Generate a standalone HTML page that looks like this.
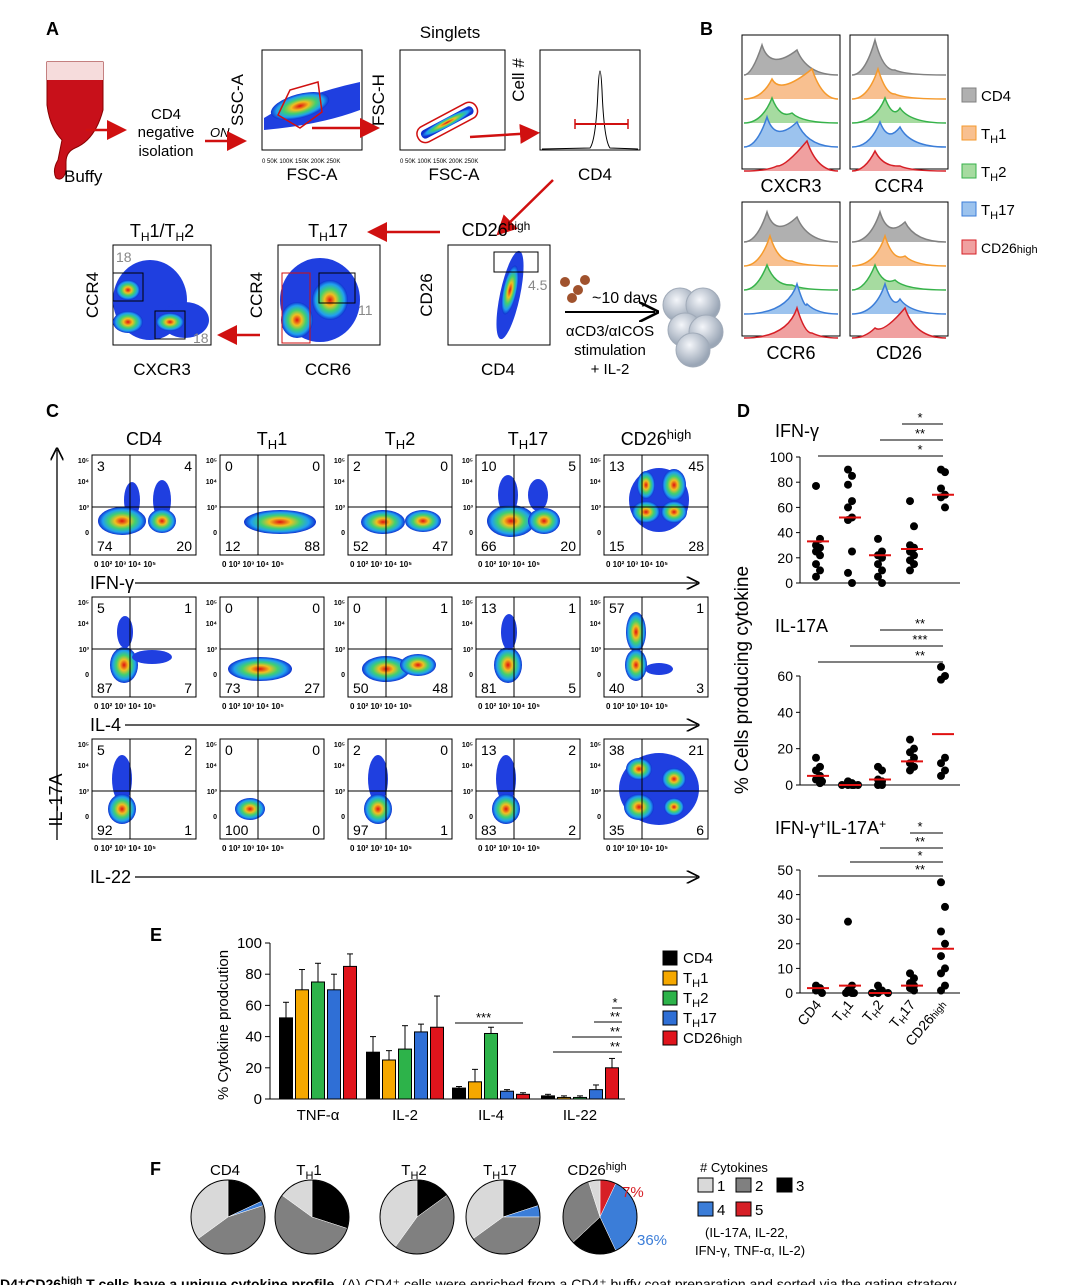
<!DOCTYPE html>
<html><head><meta charset="utf-8">
<style>
html,body{margin:0;padding:0;background:#fff;}
svg{display:block;font-family:"Liberation Sans",sans-serif;}
</style></head>
<body>
<svg id="fig" width="1080" height="1285" viewBox="0 0 1080 1285" xmlns="http://www.w3.org/2000/svg">
<defs>
<radialGradient id="heat" cx="50%" cy="50%" r="50%">
<stop offset="0" stop-color="#e01010"/><stop offset="0.3" stop-color="#f0c020"/><stop offset="0.55" stop-color="#40d070"/><stop offset="0.8" stop-color="#20a0f0"/><stop offset="1" stop-color="#1030d0"/>
</radialGradient>
<radialGradient id="cellg" cx="40%" cy="35%" r="60%"><stop offset="0" stop-color="#f4f6fa"/><stop offset="1" stop-color="#9aa6b6"/></radialGradient>
<marker id="arR" markerWidth="8" markerHeight="8" refX="6" refY="4" orient="auto"><path d="M0,0 L8,4 L0,8 z" fill="#d01010"/></marker>
<marker id="arK" markerWidth="10" markerHeight="10" refX="8" refY="5" orient="auto"><path d="M0,0 L10,5 L0,10" fill="none" stroke="#000" stroke-width="1.3"/></marker>
</defs>
<g id="root"></g>
</svg>
<script>
// ---------- Panel E data ----------
const eCategories = ["TNF-α","IL-2","IL-4","IL-22"];
const eSeries = ["CD4","TH1","TH2","TH17","CD26high"];
const eCD4 = [52,30,7,2];
const eTH1 = [70,25,11,1];
const eTH2 = [75,32,42,1];
const eTH17 = [70,43,5,6];
const eCD26 = [85,46,3,20];
const eErrCD4 = [10,10,1,1];
const eErrTH1 = [13,6,8,1];
const eErrTH2 = [12,15,4,1];
const eErrTH17 = [10,5,1,3];
const eErrCD26 = [8,20,1,6];
const eTicks = [0,20,40,60,80,100];
// ---------- Panel D data ----------
const dGroups = ["CD4","TH1","TH2","TH17","CD26high"];
const ifnCD4=[77,35,30,28,25,22,15,10,5], ifnTH1=[90,85,78,65,60,52,50,25,8,0], ifnTH2=[35,25,22,20,15,10,5,0], ifnTH17=[65,45,30,28,25,22,18,15,10], ifnCD26=[90,88,75,70,68,60];
const ifnMed=[33,52,22,27,70];
const il17CD4=[15,10,8,5,3,2,2,1], il17TH1=[2,1,0,0,0,0,0], il17TH2=[10,8,3,2,0,0], il17TH17=[25,20,18,15,12,10,8], il17CD26=[65,60,58,15,12,8,5];
const il17Med=[5,0,3,13,28];
const dblCD4=[3,2,1,1,0], dblTH1=[29,3,1,0,0,0], dblTH2=[3,1,0,0,0], dblTH17=[8,6,4,3,2,1], dblCD26=[45,35,25,20,15,10,8,3,1];
const dblMed=[2,3,0,3,18];
const ifnTicks=[0,20,40,60,80,100], il17Ticks=[0,20,40,60], dblTicks=[0,10,20,30,40,50];
// ---------- Panel F data ----------
const pieCD4=[0.35,0.45,0.18,0.02,0];
const pieTH1=[0.15,0.55,0.30,0,0];
const pieTH2=[0.40,0.45,0.15,0,0];
const pieTH17=[0.35,0.40,0.20,0.05,0];
const pieCD26=[0.05,0.32,0.20,0.36,0.07];
const pieColors=["#d9d9d9","#808080","#000000","#3b7dd8","#d61f26"];

const NS="http://www.w3.org/2000/svg";
const root=document.getElementById('root');
function mk(tag,attrs,name,parent){
  const el=document.createElementNS(NS,tag);
  for(const k in attrs) el.setAttribute(k,attrs[k]);
  
  
  (parent||root).appendChild(el);
  return el;
}
function tx(x,y,s,size,name,extra){
  const a=Object.assign({x:x,y:y,'font-size':size},extra||{});
  const t=mk('text',a,name);
  t.innerHTML=s;
  return t;
}
function line(x1,y1,x2,y2,name,st,w){return mk('line',{x1,y1,x2,y2,stroke:st||'#000','stroke-width':w||1},name);}
function rect(x,y,w,h,name,fill,st){return mk('rect',{x,y,width:w,height:h,fill:fill||'none',stroke:st||'none'},name);}
function blob(cx,cy,rx,ry,name,rot){return mk('ellipse',{cx,cy,rx,ry,fill:'url(#heat)',transform:'rotate('+(rot||0)+' '+cx+' '+cy+')'},name);}
function bluearea(cx,cy,rx,ry,name){return mk('ellipse',{cx,cy,rx,ry,fill:'#1f3fe0'},name);}

// ---------- Panel labels ----------
tx(46,35,'A',18,'panel-label-a',{'font-weight':'bold'});
tx(700,35,'B',18,'panel-label-b',{'font-weight':'bold'});
tx(46,417,'C',18,'panel-label-c',{'font-weight':'bold'});
tx(737,417,'D',18,'panel-label-d',{'font-weight':'bold'});
tx(150,941,'E',18,'panel-label-e',{'font-weight':'bold'});
tx(150,1175,'F',18,'panel-label-f',{'font-weight':'bold'});

// ---------- Panel A ----------
mk('path',{d:'M47,62 L103,62 L103,110 Q95,140 75,148 Q66,152 66,162 L66,172 Q62,182 56,178 Q52,170 58,160 L62,140 Q50,128 47,105 Z',fill:'#c8101a',stroke:'#800'},'buffy-bag');
mk('path',{d:'M47,62 L103,62 L103,80 L47,80 Z',fill:'#f6dcdc'},'buffy-bag-top');
tx(64,182,'Buffy',17,'buffy-label');
line(86,130,122,130,'arrow-isolation','#d01010',2.5).setAttribute('marker-end','url(#arR)');
tx(166,119,'CD4',15,'step-cd4',{'text-anchor':'middle'});
tx(166,137,'negative',15,'step-negative',{'text-anchor':'middle'});
tx(166,156,'isolation',15,'step-isolation',{'text-anchor':'middle'});
tx(210,137,'ON',13,'step-on',{'font-style':'italic'});
line(205,141,242,141,'arrow-on','#d01010',2.5).setAttribute('marker-end','url(#arR)');
rect(262,50,100,100,'ssc-plot','#fff','#000');
mk('path',{d:'M264,118 Q300,95 360,82 L360,110 Q320,125 264,130Z',fill:'#1f3fe0'},'ssc-density');
blob(300,106,30,12,'ssc-core',-15);
mk('path',{d:'M278,115 L290,90 L318,82 L322,112 L300,128 Z',fill:'none',stroke:'#d01010','stroke-width':1.5},'ssc-gate');
tx(243,100,'SSC-A',17,'ssc-axis-title',{transform:'rotate(-90 243 100)','text-anchor':'middle'});
tx(312,180,'FSC-A',17,'ssc-x-title',{'text-anchor':'middle'});
tx(262,163,'0  50K 100K 150K 200K 250K',6,'ssc-x-ticks');
line(312,128,375,128,'arrow-gate1','#d01010',2.5).setAttribute('marker-end','url(#arR)');
rect(400,50,105,100,'fsch-plot','#fff','#000');
mk('rect',{x:418,y:118,width:58,height:9,rx:4,fill:'url(#heat)',transform:'rotate(-28 447 122)'},'fsch-density');
mk('rect',{x:414,y:114,width:66,height:17,rx:8,fill:'none',stroke:'#d01010','stroke-width':1.5,transform:'rotate(-28 447 122)'},'fsch-gate');
tx(450,38,'Singlets',17,'singlets-title',{'text-anchor':'middle'});
tx(384,100,'FSC-H',17,'fsch-axis-title',{transform:'rotate(-90 384 100)','text-anchor':'middle'});
tx(454,180,'FSC-A',17,'fsch-x-title',{'text-anchor':'middle'});
tx(400,163,'0  50K 100K 150K 200K 250K',6,'fsch-x-ticks');
line(470,137,535,133,'arrow-gate2','#d01010',2.5).setAttribute('marker-end','url(#arR)');
rect(540,50,100,100,'cd4-hist-plot','#fff','#000');
mk('path',{d:'M542,149 L590,148 Q596,140 598,90 Q600,52 602,90 Q604,140 610,148 L638,149',fill:'none',stroke:'#000'},'cd4-hist-curve');
line(575,124,628,124,'cd4-hist-gate','#d01010',2);
line(575,119,575,129,'cd4-gate-l','#d01010',1.5);line(628,119,628,129,'cd4-gate-r','#d01010',1.5);
tx(524,80,'Cell #',17,'cd4-hist-ytitle',{transform:'rotate(-90 524 80)','text-anchor':'middle'});
tx(595,180,'CD4',17,'cd4-hist-xtitle',{'text-anchor':'middle'});
line(553,180,500,232,'arrow-to-cd26','#d01010',2.5).setAttribute('marker-end','url(#arR)');
line(440,232,372,232,'arrow-to-th17','#d01010',2.5).setAttribute('marker-end','url(#arR)');
function flowBox(x,y,w,h,name){rect(x,y,w,h,name,'#fff','#000');}
flowBox(113,245,98,100,'th1th2-plot');
bluearea(150,300,37,40,'th1th2-area');bluearea(185,320,24,18,'th1th2-area2');
blob(128,322,15,11,'th1th2-core1');blob(128,290,12,10,'th1th2-core2');blob(170,322,14,9,'th1th2-core3');
rect(113,273,30,28,'th1th2-gate1','none','#000');rect(155,311,30,28,'th1th2-gate2','none','#000');
tx(116,262,'18',14,'th1th2-val1',{fill:'#888'});tx(193,343,'18',14,'th1th2-val2',{fill:'#888'});
tx(162,237,'T<tspan font-size="12" dy="4">H</tspan><tspan dy="-4">1/T</tspan><tspan font-size="12" dy="4">H</tspan><tspan dy="-4">2</tspan>',18,'th1th2-title',{'text-anchor':'middle'});
tx(98,295,'CCR4',17,'th1th2-ytitle',{transform:'rotate(-90 98 295)','text-anchor':'middle'});
tx(162,375,'CXCR3',17,'th1th2-xtitle',{'text-anchor':'middle'});
flowBox(278,245,102,100,'th17-gate-plot');
bluearea(320,300,40,42,'th17-area');
blob(297,320,16,18,'th17-core1');blob(330,300,18,20,'th17-core2');
rect(282,273,28,70,'th17-gate-red','none','#d01010');rect(319,273,36,30,'th17-gate-box','none','#000');
tx(358,315,'11',14,'th17-val',{fill:'#888'});
tx(328,237,'T<tspan font-size="12" dy="4">H</tspan><tspan dy="-4">17</tspan>',18,'th17-title',{'text-anchor':'middle'});
tx(262,295,'CCR4',17,'th17-ytitle',{transform:'rotate(-90 262 295)','text-anchor':'middle'});
tx(328,375,'CCR6',17,'th17-xtitle',{'text-anchor':'middle'});
line(260,335,222,335,'arrow-to-th1th2','#d01010',2.5).setAttribute('marker-end','url(#arR)');
flowBox(448,245,102,100,'cd26-plot');
mk('ellipse',{cx:510,cy:295,rx:10,ry:45,fill:'#1f3fe0',transform:'rotate(12 510 295)'},'cd26-area');
blob(510,290,7,25,'cd26-core',12);
rect(494,252,44,20,'cd26-gate','none','#000');
tx(528,290,'4.5',14,'cd26-val',{fill:'#888'});
tx(496,236,'CD26<tspan font-size="12" dy="-6">high</tspan>',18,'cd26-title',{'text-anchor':'middle'});
tx(432,295,'CD26',17,'cd26-ytitle',{transform:'rotate(-90 432 295)','text-anchor':'middle'});
tx(498,375,'CD4',17,'cd26-xtitle',{'text-anchor':'middle'});
tx(592,303,'~10 days',16,'culture-days');
line(565,312,655,312,'arrow-culture','#000',2).setAttribute('marker-end','url(#arK)');
tx(610,336,'αCD3/αICOS',15,'stim-1',{'text-anchor':'middle'});
tx(610,355,'stimulation',15,'stim-2',{'text-anchor':'middle'});
tx(610,374,'+ IL-2',15,'stim-3',{'text-anchor':'middle'});
[[565,282],[578,290],[572,298],[585,280]].forEach((p,i)=>{mk('circle',{cx:p[0],cy:p[1],r:5,fill:'#a0522d'},'bead-'+i);});
[[680,305],[703,305],[685,330],[706,332],[693,350]].forEach((p,i)=>{mk('circle',{cx:p[0],cy:p[1],r:17,fill:'url(#cellg)',stroke:'#a0aab8'},'cell-'+i);});

// ---------- Panel B ----------
const histCols=["#808080","#f59a2c","#36b24a","#3b7dd8","#d61f26"];
const histFill=["#b0b0b0","#f8c090","#a6dba0","#9cc3ee","#f0a0a0"];
function histBox(x,y,name,peaks,xl){
  rect(x,y,98,134,name,'#fff','#000');
  for(let i=0;i<5;i++){
    const by=y+40+i*24;
    const p=peaks[i];
    let d='M'+(x+2)+','+by;
    d+=' Q'+(x+p[0]-10)+','+by+' '+(x+p[0])+','+(by-p[1]);
    d+=' Q'+(x+p[0]+8)+','+(by-4)+' '+(x+p[2])+','+(by-p[3]);
    d+=' Q'+(x+p[2]+10)+','+by+' '+(x+96)+','+by;
    mk('path',{d:d+' Z',fill:histFill[i],stroke:'none'},name+'-fill-'+i);
    mk('path',{d:d,fill:'none',stroke:histCols[i],'stroke-width':1.5},name+'-line-'+i);
  }
  tx(x+49,y+157,xl,18,name+'-xtitle',{'text-anchor':'middle'});
}
histBox(742,35,'hist-cxcr3',[[20,30,55,25],[30,20,70,30],[30,25,50,10],[25,30,55,25],[35,5,65,30]],'CXCR3');
histBox(850,35,'hist-ccr4',[[25,35,45,5],[28,30,45,5],[35,25,50,15],[30,25,50,20],[25,20,50,5]],'CCR4');
histBox(742,202,'hist-ccr6',[[25,30,55,25],[28,30,50,5],[25,25,50,5],[55,30,65,10],[55,30,70,5]],'CCR6');
histBox(850,202,'hist-cd26',[[30,30,55,20],[35,30,55,10],[25,25,45,10],[35,30,50,15],[25,10,55,30]],'CD26');
const legB=[["CD4",""],["T","1"],["T","2"],["T","17"],["CD26","high"]];
legB.forEach((l,i)=>{
  const y=100+i*38;
  rect(962,y-12,14,14,'legend-b-swatch-'+i,histFill[i],histCols[i]);
  if(i==0) tx(981,y+1,'CD4',15,'legend-b-cd4');
  else if(i<4) tx(981,y+1,'T<tspan font-size="11" dy="4">H</tspan><tspan dy="-4">'+l[1]+'</tspan>',15,'legend-b-entry-'+i);
  else tx(981,y+1,'CD26<tspan font-size="11">high</tspan>',14,'legend-b-cd26');
});

// ---------- Panel C ----------
const cColX=[92,220,348,476,604];
const cRowY=[455,597,739];
const cTitles=['CD4','T<tspan font-size="13" dy="4">H</tspan><tspan dy="-4">1</tspan>','T<tspan font-size="13" dy="4">H</tspan><tspan dy="-4">2</tspan>','T<tspan font-size="13" dy="4">H</tspan><tspan dy="-4">17</tspan>','CD26<tspan font-size="13" dy="-6">high</tspan>'];
const cQuad=[[[3,4,74,20],[0,0,12,88],[2,0,52,47],[10,5,66,20],[13,45,15,28]],
[[5,1,87,7],[0,0,73,27],[0,1,50,48],[13,1,81,5],[57,1,40,3]],
[[5,2,92,1],[0,0,100,0],[2,0,97,1],[13,2,83,2],[38,21,35,6]]];
cColX.forEach((x,c)=>{tx(x+52,445,cTitles[c],18,'c-col-title-'+c,{'text-anchor':'middle'});});
cRowY.forEach((y,r)=>{
  cColX.forEach((x,c)=>{
    const n='c-plot-r'+r+'-c'+c;
    rect(x,y,104,100,n,'#fff','#000');
    const q=cQuad[r][c];
    if(r==0){
      if(c==4){bluearea(x+55,y+45,30,32,n+'-area');blob(x+42,y+57,14,11,n+'-c1');blob(x+70,y+57,13,11,n+'-c2');blob(x+70,y+30,12,16,n+'-c3');blob(x+42,y+30,9,14,n+'-c4');}
      else if(c==1){blob(x+60,y+67,36,12,n+'-c1');}
      else if(c==2){blob(x+35,y+67,22,12,n+'-c1');blob(x+75,y+66,18,11,n+'-c2');}
      else if(c==0){bluearea(x+40,y+45,8,18,n+'-a1');bluearea(x+70,y+45,9,20,n+'-a2');blob(x+30,y+66,24,14,n+'-c1');blob(x+70,y+66,14,12,n+'-c2');}
      else {bluearea(x+32,y+40,10,20,n+'-a1');bluearea(x+62,y+40,10,16,n+'-a2');blob(x+35,y+66,24,16,n+'-c1');blob(x+68,y+66,16,13,n+'-c2');}
    } else if(r==1){
      if(c==1){blob(x+40,y+72,32,12,n+'-c1');}
      else if(c==2){blob(x+38,y+72,24,13,n+'-c1');blob(x+70,y+68,18,11,n+'-c2');}
      else if(c==4){blob(x+32,y+35,10,20,n+'-c1');blob(x+32,y+68,11,16,n+'-c2');bluearea(x+55,y+72,14,6,n+'-a2');}
      else if(c==0){blob(x+32,y+68,14,18,n+'-c1');bluearea(x+33,y+35,8,16,n+'-a1');bluearea(x+60,y+60,20,7,n+'-a2');}
      else {blob(x+32,y+68,14,18,n+'-c1');bluearea(x+33,y+35,8,18,n+'-a1');}
    } else {
      if(c==1){blob(x+30,y+70,15,11,n+'-c1');}
      else if(c==4){bluearea(x+55,y+50,40,36,n+'-area');blob(x+35,y+68,15,13,n+'-c1');blob(x+35,y+30,13,11,n+'-c2');blob(x+70,y+40,12,11,n+'-c3');blob(x+70,y+68,10,9,n+'-c4');}
      else {bluearea(x+30,y+40,10,24,n+'-a1');blob(x+30,y+70,14,15,n+'-c1');}
    }
    line(x+38,y,x+38,y+100,n+'-vline');
    line(x,y+52,x+104,y+52,n+'-hline');
    tx(x+5,y+16,q[0],14,n+'-q-ul');
    tx(x+100,y+16,q[1],14,n+'-q-ur',{'text-anchor':'end'});
    tx(x+5,y+96,q[2],14,n+'-q-ll');
    tx(x+100,y+96,q[3],14,n+'-q-lr',{'text-anchor':'end'});
    tx(x+2,y+112,'0 10² 10³ 10⁴ 10⁵',8,n+'-xticks',{'font-weight':'bold'});
    tx(x-3,y+8,'10⁵',7,n+'-yt5',{'text-anchor':'end','font-weight':'bold'});
    tx(x-3,y+29,'10⁴',7,n+'-yt4',{'text-anchor':'end','font-weight':'bold'});
    tx(x-3,y+55,'10³',7,n+'-yt3',{'text-anchor':'end','font-weight':'bold'});
    tx(x-3,y+80,'0',7,n+'-yt0',{'text-anchor':'end','font-weight':'bold'});
  });
});
line(57,840,57,450,'c-y-arrow','#000',1.3).setAttribute('marker-end','url(#arK)');
tx(62,800,'IL-17A',18,'c-y-title',{transform:'rotate(-90 62 800)','text-anchor':'middle'});
[['IFN-γ',583],['IL-4',725],['IL-22',877]].forEach((a,i)=>{
  tx(90,a[1]+6,a[0],18,'c-x-title-'+i);
  line(90+(i==1?35:45),a[1],697,a[1],'c-x-arrow-'+i,'#000',1.3).setAttribute('marker-end','url(#arK)');
});

// ---------- Panel D ----------
const dX=[818,850,880,912,943];
function dotPlot(title,ty,y0,yTop,maxV,ticks,groups,med,sigs,name){
  const ys=v=>y0-(v/maxV)*(y0-yTop);
  tx(775,ty,title,18,name+'-title');
  line(800,ys(maxV),800,y0,name+'-yaxis');
  line(800,y0,960,y0,name+'-xaxis');
  ticks.forEach(t=>{line(796,ys(t),800,ys(t),name+'-tick-'+t);tx(793,ys(t)+5,t,14,name+'-ticklabel-'+t,{'text-anchor':'end'});});
  groups.forEach((g,gi)=>{
    const cnt={};
    g.forEach((v,k)=>{const key=Math.round(ys(v)/4);cnt[key]=(cnt[key]||0)+1;const off=((cnt[key]-1)%3-1)*6*(cnt[key]>1?1:0)+(k%2?2:-2);
      mk('circle',{cx:dX[gi]+off,cy:ys(v),r:4,fill:'#000'},name+'-dot-'+gi+'-'+k);});
    line(dX[gi]-11,ys(med[gi]),dX[gi]+11,ys(med[gi]),name+'-median-'+gi,'#e01010',2);
  });
  sigs.forEach((s,i)=>{line(s[0],s[1],943,s[1],name+'-sig-line-'+i);tx(920,s[1]-2,s[2],13,name+'-sig-'+i,{'text-anchor':'middle'});});
}
dotPlot('IFN-γ',437,583,457,100,ifnTicks,[ifnCD4,ifnTH1,ifnTH2,ifnTH17,ifnCD26],ifnMed,[[902,424,'*'],[880,440,'**'],[818,456,'*']],'d-ifn');
dotPlot('IL-17A',632,785,676,60,il17Ticks,[il17CD4,il17TH1,il17TH2,il17TH17,il17CD26],il17Med,[[880,630,'**'],[850,646,'***'],[818,662,'**']],'d-il17');
dotPlot('IFN-γ<tspan font-size="12" dy="-6">+</tspan><tspan dy="6">IL-17A</tspan><tspan font-size="12" dy="-6">+</tspan>',834,993,870,50,dblTicks,[dblCD4,dblTH1,dblTH2,dblTH17,dblCD26],dblMed,[[910,833,'*'],[880,848,'**'],[850,862,'*'],[818,876,'**']],'d-dbl');
tx(748,680,'% Cells producing cytokine',19,'d-y-title',{transform:'rotate(-90 748 680)','text-anchor':'middle'});
const dLab=['CD4','T<tspan font-size="10" dy="3">H</tspan><tspan dy="-3">1</tspan>','T<tspan font-size="10" dy="3">H</tspan><tspan dy="-3">2</tspan>','T<tspan font-size="10" dy="3">H</tspan><tspan dy="-3">17</tspan>','CD26<tspan font-size="10">high</tspan>'];
dGroups.forEach((g,i)=>{tx(dX[i]+4,1005,dLab[i],14,'d-xlabel-'+i,{'text-anchor':'end',transform:'rotate(-50 '+(dX[i]+4)+' 1005)'});});

// ---------- Panel E ----------
const eColors=["#000000","#f5a800","#2db34a","#2f6fd6","#e0141c"];
const eVals=[eCD4,eTH1,eTH2,eTH17,eCD26], eErrs=[eErrCD4,eErrTH1,eErrTH2,eErrTH17,eErrCD26];
const eY0=1099,eY1=943,eGX=[318,405,491,580],eBW=13;
const ey=v=>eY0-v/100*(eY0-eY1);
line(270,eY1,270,eY0,'e-yaxis');line(270,eY0,625,eY0,'e-xaxis');
eTicks.forEach(t=>{line(265,ey(t),270,ey(t),'e-tick-'+t);tx(262,ey(t)+5,t,15,'e-ticklabel-'+t,{'text-anchor':'end'});});
tx(228,1025,'% Cytokine prodcution',15,'e-y-title',{transform:'rotate(-90 228 1025)','text-anchor':'middle'});
eCategories.forEach((c,ci)=>{
  tx(eGX[ci],1120,c,15,'e-xlabel-'+ci,{'text-anchor':'middle'});
  eSeries.forEach((s,si)=>{
    const x=eGX[ci]+(si-2)*(eBW+3)-eBW/2, v=eVals[si][ci], e=eErrs[si][ci];
    line(x+eBW/2,ey(v),x+eBW/2,ey(v+e),'e-err-'+s+'-'+ci);
    line(x+eBW/2-3,ey(v+e),x+eBW/2+3,ey(v+e),'e-errcap-'+s+'-'+ci);
    rect(x,ey(v),eBW,eY0-ey(v),'e-bar-'+s+'-'+ci,eColors[si],'#000');
  });
});
line(455,1023,523,1023,'e-sig-il4');tx(476,1022,'***',13,'e-sig-il4-label');
[[612,1008,'*'],[594,1022,'**'],[572,1037,'**'],[553,1052,'**']].forEach((s,i)=>{line(s[0],s[1],622,s[1],'e-sig-line-'+i);tx(615,s[1]-1,s[2],13,'e-sig-'+i,{'text-anchor':'middle'});});
const eLeg=['CD4','T<tspan font-size="11" dy="4">H</tspan><tspan dy="-4">1</tspan>','T<tspan font-size="11" dy="4">H</tspan><tspan dy="-4">2</tspan>','T<tspan font-size="11" dy="4">H</tspan><tspan dy="-4">17</tspan>','CD26<tspan font-size="11">high</tspan>'];
eLeg.forEach((l,i)=>{const y=962+i*20;rect(663,y-11,14,14,'e-legend-swatch-'+i,eColors[i],'#000');tx(683,y+1,l,15,'e-legend-label-'+i);});

// ---------- Panel F ----------
const pies=[pieCD4,pieTH1,pieTH2,pieTH17,pieCD26];
const pieCX=[228,312,417,503,600], pieCY=1217, pieR=37;
const pieTitles=['CD4','T<tspan font-size="11" dy="4">H</tspan><tspan dy="-4">1</tspan>','T<tspan font-size="11" dy="4">H</tspan><tspan dy="-4">2</tspan>','T<tspan font-size="11" dy="4">H</tspan><tspan dy="-4">17</tspan>','CD26<tspan font-size="11" dy="-5">high</tspan>'];
pies.forEach((p,pi)=>{
  const cx=pieCX[pi];
  tx(cx-3,1175,pieTitles[pi],15,'f-pie-title-'+pi,{'text-anchor':'middle'});
  const tot=p.reduce((a,b)=>a+b,0);
  let a0=-Math.PI/2;
  const order=pi==4?[4,3,2,1,0]:[2,3,4,1,0];
  order.forEach(k=>{
    const frac=p[k]/tot; if(frac<=0) return;
    const a1=a0+frac*2*Math.PI;
    const large=frac>0.5?1:0;
    const d='M'+cx+','+pieCY+' L'+(cx+pieR*Math.cos(a0))+','+(pieCY+pieR*Math.sin(a0))+' A'+pieR+','+pieR+' 0 '+large+' 1 '+(cx+pieR*Math.cos(a1))+','+(pieCY+pieR*Math.sin(a1))+' Z';
    mk('path',{d:d,fill:pieColors[k],stroke:'#fff','stroke-width':0.5},'f-pie-'+pi+'-slice-'+k);
    a0=a1;
  });
  mk('circle',{cx:cx,cy:pieCY,r:pieR,fill:'none',stroke:'#000'},'f-pie-outline-'+pi);
});
tx(622,1197,'7%',15,'f-pct-5',{fill:'#d61f26'});
tx(637,1245,'36%',15,'f-pct-4',{fill:'#3b7dd8'});
tx(700,1172,'# Cytokines',13,'f-legend-title');
[[698,1190,0,'1'],[736,1190,1,'2'],[777,1190,2,'3'],[698,1214,3,'4'],[736,1214,4,'5']].forEach((l,i)=>{rect(l[0],l[1]-12,15,14,'f-legend-swatch-'+i,pieColors[l[2]],'#000');tx(l[0]+19,l[1]+1,l[3],15,'f-legend-label-'+i);});
tx(705,1237,'(IL-17A, IL-22,',13,'f-legend-note-1');
tx(695,1255,'IFN-γ, TNF-α, IL-2)',13,'f-legend-note-2');

// ---------- Caption ----------
tx(0,1289,'<tspan font-weight="bold">D4⁺CD26<tspan font-size="10" dy="-5">high</tspan><tspan dy="5"> T cells have a unique cytokine profile.</tspan></tspan> (A) CD4⁺ cells were enriched from a CD4⁺ buffy coat preparation and sorted via the gating strategy',14,'caption');
</script>
</body></html>
